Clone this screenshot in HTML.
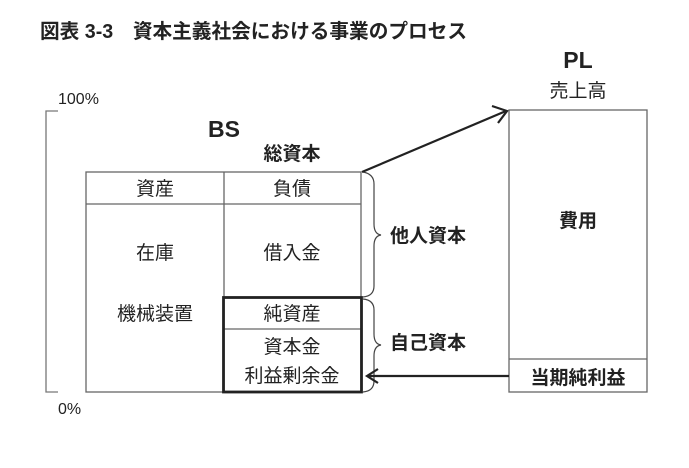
<!DOCTYPE html>
<html><head><meta charset="utf-8"><style>
body{margin:0;background:#fff;width:689px;height:463px;overflow:hidden}
svg text{font-family:"Liberation Sans","Noto Sans CJK JP",sans-serif;fill:#222}
</style></head><body>
<svg width="689" height="463" viewBox="0 0 689 463" xmlns="http://www.w3.org/2000/svg">
<text x="40" y="38" font-size="20" font-weight="bold" textLength="427" lengthAdjust="spacingAndGlyphs">図表 3-3　資本主義社会における事業のプロセス</text>
<text x="58" y="104" font-size="16">100%</text>
<text x="58" y="414" font-size="16">0%</text>
<path d="M58 111 H46 V392 H58" fill="none" stroke="#777" stroke-width="1.3"/>
<text x="224" y="137" font-size="23" font-weight="bold" text-anchor="middle">BS</text>
<text x="292" y="160" font-size="19" font-weight="bold" text-anchor="middle">総資本</text>
<g fill="none" stroke="#666" stroke-width="1.3">
<rect x="86" y="172" width="275" height="220"/>
<line x1="224" y1="172" x2="224" y2="392"/>
<line x1="86" y1="204" x2="361" y2="204"/>
<line x1="224" y1="329" x2="361" y2="329"/>
<rect x="509" y="110" width="138" height="282"/>
<line x1="509" y1="359" x2="647" y2="359"/>
</g>
<rect x="223.5" y="297.5" width="138" height="94.5" fill="none" stroke="#222" stroke-width="2.8"/>
<g font-size="19" text-anchor="middle">
<text x="155" y="195">資産</text>
<text x="292" y="195">負債</text>
<text x="155" y="259">在庫</text>
<text x="292" y="259">借入金</text>
<text x="155" y="320">機械装置</text>
<text x="292" y="320">純資産</text>
<text x="292" y="353">資本金</text>
<text x="292" y="382">利益剰余金</text>
<text x="578" y="97">売上高</text>
</g>
<text x="578" y="68" font-size="23" font-weight="bold" text-anchor="middle">PL</text>
<text x="578" y="227" font-size="19" font-weight="bold" text-anchor="middle">費用</text>
<text x="578" y="384" font-size="19" font-weight="bold" text-anchor="middle">当期純利益</text>
<text x="390" y="242" font-size="19" font-weight="bold">他人資本</text>
<text x="390" y="349" font-size="19" font-weight="bold">自己資本</text>
<g fill="none" stroke="#444" stroke-width="1.2">
<path d="M363 172 Q374 174 374 184 V224 Q374 234 381 235 Q374 236 374 246 V286 Q374 296 363 297"/>
<path d="M363 299 Q374 300 374 310 V334 Q374 344 381 345 Q374 346 374 356 V381 Q374 391 363 392"/>
</g>
<g fill="none" stroke="#222" stroke-width="2.2">
<line x1="362" y1="172" x2="506" y2="111"/>
<path d="M492 106 L507 111 L498 123"/>
<line x1="509" y1="376" x2="368" y2="376"/>
<path d="M378 369 L367 376 L378 383"/>
</g>
</svg>
</body></html>
